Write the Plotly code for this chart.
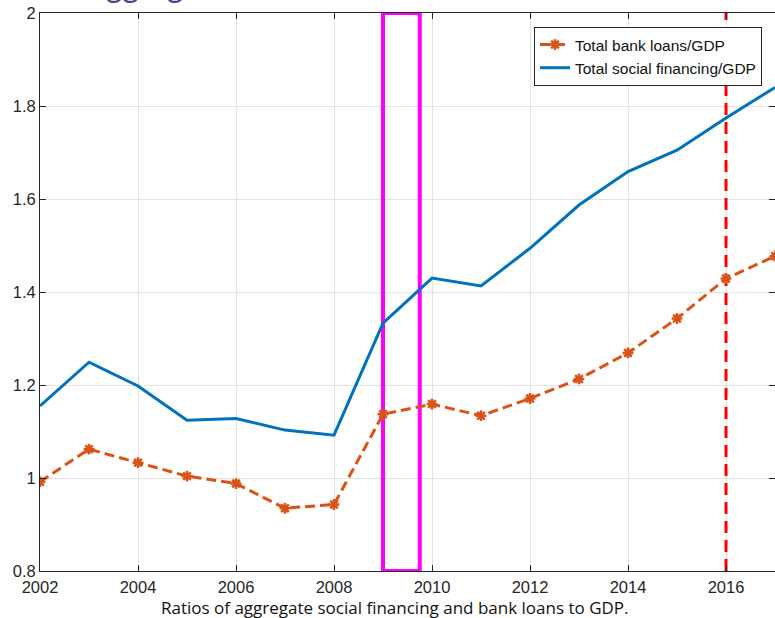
import plotly.graph_objects as go

# Annual ratios to GDP
years = list(range(2002, 2018))
bank_loans_gdp = [0.992, 1.062, 1.033, 1.004, 0.988, 0.935, 0.943, 1.137,
                  1.159, 1.134, 1.171, 1.213, 1.269, 1.343, 1.429, 1.477]
social_financing_gdp = [1.155, 1.249, 1.198, 1.124, 1.128, 1.103, 1.092, 1.333,
                        1.430, 1.413, 1.494, 1.587, 1.659, 1.705, 1.774, 1.840]

x_ticks = [2002, 2004, 2006, 2008, 2010, 2012, 2014, 2016]
y_ticks = [0.8, 1.0, 1.2, 1.4, 1.6, 1.8, 2.0]
y_tick_text = ["0.8", "1", "1.2", "1.4", "1.6", "1.8", "2"]

# Highlighted stimulus window and marker year
window_start, window_end = 2009, 2009.75
marker_year = 2016

axis_color = "#262626"
grid_color = "#e3e3e3"
tick_font = dict(family="Liberation Sans, Arial, sans-serif", size=16.5, color=axis_color)

fig = go.Figure()

fig.add_trace(go.Scatter(
    x=years, y=bank_loans_gdp, name="Total bank loans/GDP",
    mode="lines+markers",
    line=dict(color="#D95319", width=3, dash="10px,5px"),
    marker=dict(symbol="asterisk-open", size=9, color="#D95319",
                line=dict(color="#D95319", width=2.5)),
))
fig.add_trace(go.Scatter(
    x=years, y=social_financing_gdp, name="Total social financing/GDP",
    mode="lines",
    line=dict(color="#0072BD", width=3),
))

fig.add_shape(type="rect", xref="x", yref="y",
              x0=window_start, x1=window_end, y0=0.8, y1=2.0,
              line=dict(color="#FF00FF", width=4), layer="between")
fig.add_shape(type="line", xref="x", yref="y",
              x0=marker_year, x1=marker_year, y0=0.8, y1=2.0,
              line=dict(color="#FF0000", width=3, dash="12px,7px"), layer="between")

# Slide heading sitting above the chart
fig.add_annotation(text="Aggregate", xref="paper", yref="paper",
                   x=(83 - 40) / 735, y=1 + 8 / 558, xanchor="left", yanchor="bottom",
                   showarrow=False, borderpad=0,
                   font=dict(family="Lato", size=32, color="#47478a"))

# Caption below the axes
fig.add_annotation(text="Ratios of aggregate social financing and bank loans to GDP.",
                   xref="paper", yref="paper",
                   x=(395 - 40) / 735, y=-(607 - 571) / 558,
                   xanchor="center", yanchor="middle", showarrow=False,
                   font=dict(family="Open Sans", size=17, color="#111111"))

fig.update_xaxes(range=[2002, 2017], tickvals=x_ticks, ticktext=[str(v) for v in x_ticks],
                 showgrid=True, gridcolor=grid_color, gridwidth=1,
                 showline=True, linecolor=axis_color, linewidth=1, mirror="ticks",
                 ticks="inside", ticklen=6, tickcolor=axis_color,
                 tickfont=tick_font, zeroline=False, ticklabelstandoff=1)
fig.update_yaxes(range=[0.8, 2.0], tickvals=y_ticks, ticktext=y_tick_text,
                 showgrid=True, gridcolor=grid_color, gridwidth=1,
                 showline=True, linecolor=axis_color, linewidth=1, mirror="ticks",
                 ticks="inside", ticklen=6, tickcolor=axis_color,
                 tickfont=tick_font, zeroline=False)

fig.update_layout(
    width=775, height=618,
    margin=dict(l=40, r=0, t=13, b=47, pad=0),
    paper_bgcolor="white", plot_bgcolor="white",
    showlegend=True,
    legend=dict(x=(762 - 40) / 735, y=1 - (27 - 13) / 558, xanchor="right", yanchor="top",
                bgcolor="white", bordercolor=axis_color, borderwidth=1,
                font=dict(family="Liberation Sans, Arial, sans-serif", size=15.5, color="#111111"),
                tracegroupgap=0, itemwidth=30),
)

fig.write_html("out.html")
